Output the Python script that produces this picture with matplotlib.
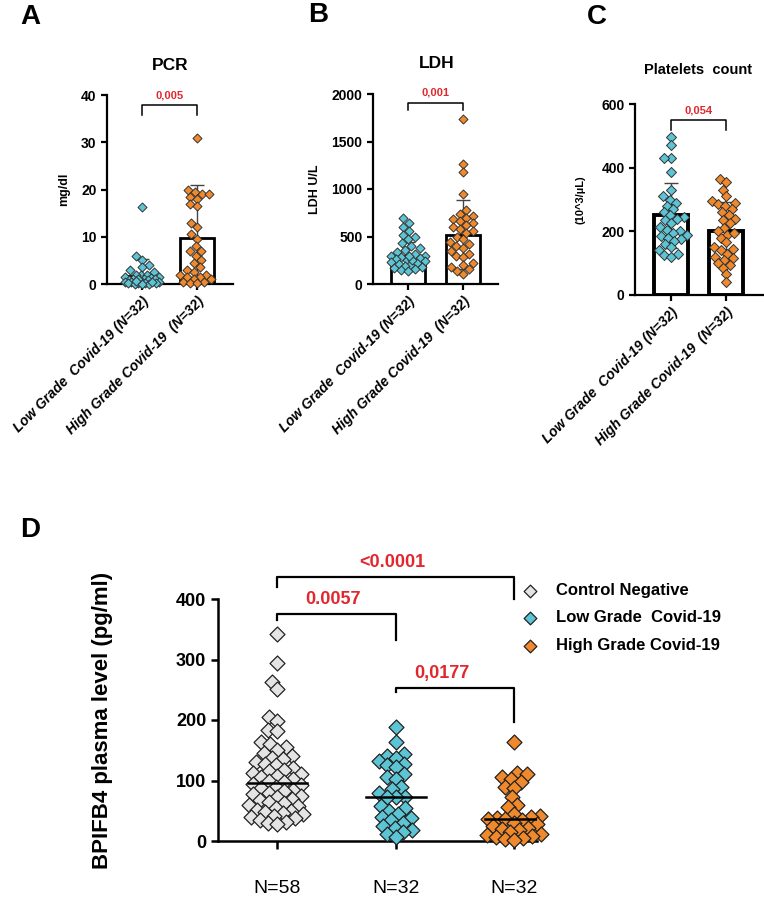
import numpy as np
import matplotlib
matplotlib.use("Agg")
from matplotlib import pyplot as plt

plt.rcParams['font.family'] = ['Liberation Sans', 'DejaVu Sans']

# ---- data ----
groups_ab = ["Low Grade  Covid-19 (N=32)", "High Grade Covid-19  (N=32)"]

pcr_low = [16.2, 6, 5, 4, 3.5, 3, 2.5, 2, 2, 1.8, 1.5, 1.5, 1.2, 1, 1, 1,
           0.8, 0.8, 0.6, 0.5, 0.5, 0.4, 0.3, 0.3, 0.2, 0.2, 0.1, 0.1, 0.1, 0.5, 1.0, 0.7]
pcr_high = [31, 20, 19.5, 19, 19, 18.5, 18, 17, 16.5, 13, 12, 10.5, 9.5, 8, 7, 7,
            6, 5, 4.5, 3.5, 3, 2.5, 2, 2, 1.5, 1.5, 1, 1, 0.5, 0.5, 0.3, 0.2]
pcr_mean = [1.7, 9.7]
pcr_sd = [3.5, 11.3]

ldh_low = [690, 640, 600, 560, 520, 500, 470, 430, 400, 380, 360, 340, 320, 300, 290, 280,
           270, 260, 250, 240, 230, 220, 210, 200, 190, 180, 170, 160, 150, 140, 250, 300]
ldh_high = [1740, 1260, 1180, 950, 780, 740, 720, 700, 680, 660, 640, 620, 600, 580, 560, 540,
            500, 470, 440, 420, 400, 380, 350, 320, 300, 280, 220, 200, 180, 160, 140, 110]
ldh_mean = [300, 520]
ldh_sd = [140, 360]

plt_low = [495, 470, 430, 430, 385, 330, 310, 300, 290, 280, 270, 260, 250, 245, 240, 235,
           225, 215, 205, 200, 195, 190, 185, 180, 175, 170, 160, 150, 140, 130, 125, 120]
plt_high = [365, 355, 330, 310, 295, 290, 285, 280, 270, 260, 250, 240, 235, 225, 210, 200,
            190, 180, 165, 150, 145, 140, 130, 120, 115, 110, 100, 95, 85, 65, 40, 195]
plt_mean = [250, 202]
plt_sd = [102, 90]

d_labels = ["Control Negative", "Low Grade  Covid-19", "High Grade Covid-19"]
d_ticks = ["N=58", "N=32", "N=32"]
d_control = [342, 295, 263, 251, 205, 199, 184, 182, 163, 160, 155, 150, 145, 140, 138, 135,
             130, 128, 125, 120, 118, 115, 112, 110, 108, 105, 102, 100, 98, 95, 92, 90,
             88, 85, 82, 80, 78, 75, 72, 70, 68, 65, 62, 60, 58, 55, 52, 50, 48, 46, 45,
             42, 40, 38, 35, 32, 30, 28]
d_low = [189, 164, 144, 140, 138, 132, 128, 125, 122, 110, 106, 102, 90, 86, 80, 73,
         72, 72, 58, 55, 50, 45, 40, 38, 35, 30, 25, 22, 18, 15, 12, 6]
d_high = [163, 113, 110, 105, 102, 98, 90, 88, 73, 60, 56, 45, 42, 40, 38, 37,
          36, 35, 30, 28, 25, 22, 20, 18, 15, 12, 10, 8, 6, 5, 3, 2]

CYAN = "#5cc4d4"
ORANGE = "#f0892c"
GREY = "#e4e4e4"
RED = "#e0282e"

W, H = 764, 900
fig = plt.figure(figsize=(W / 100, H / 100), dpi=100)


def px_axes(left, right, top, bottom):
    return fig.add_axes([left / W, 1 - bottom / H, (right - left) / W, (bottom - top) / H])


def swarm_x(ax, x0, values, dist_px, max_px):
    # simple beeswarm: place points one by one, as near the centre as possible
    trans = ax.transData
    pts = trans.transform(np.column_stack([np.full(len(values), x0), values]))
    xc = pts[0, 0]
    ys = pts[:, 1]
    order = np.argsort(ys)
    cand = np.arange(-max_px, max_px + 0.01, 0.5)
    cand = cand[np.argsort(np.abs(cand), kind="stable")]
    placed = []
    dx = np.zeros(len(values))
    for i in order:
        best, best_d = 0.0, -1
        for c in cand:
            if not placed:
                best = c
                break
            p = np.array(placed)
            d = np.min(np.hypot(p[:, 0] - c, p[:, 1] - ys[i]))
            if d >= dist_px:
                best = c
                break
            if d > best_d:
                best_d, best = d, c
        dx[i] = best
        placed.append((best, ys[i]))
    inv = trans.inverted()
    return inv.transform(np.column_stack([xc + dx, ys]))[:, 0]


def style_axes(ax, lw=1.6, ysize=10):
    for s in ("top", "right"):
        ax.spines[s].set_visible(False)
    for s in ("left", "bottom"):
        ax.spines[s].set_linewidth(lw)
    ax.tick_params(width=lw, length=4)
    ax.tick_params(axis="y", labelsize=ysize)
    for lab in ax.get_yticklabels():
        lab.set_fontweight("bold")


def bar_panel(ax, low, high, means, sds, ylim, yticks, ylabel, pval, br, xlim,
              bar_lw=2.0, s=21):
    ax.set_xlim(*xlim)
    ax.set_ylim(*ylim)
    ax.set_yticks(yticks)
    style_axes(ax)
    ax.bar([0, 1], means, width=0.62, facecolor="white", edgecolor="black",
           linewidth=bar_lw, zorder=1)
    ax.errorbar([0, 1], means, yerr=sds, fmt="none", ecolor="#444444",
                elinewidth=1.0, capsize=5, capthick=1.0, zorder=2)
    for k, (vals, col) in enumerate([(low, CYAN), (high, ORANGE)]):
        xs = swarm_x(ax, k, vals, 7.0, 17)
        ax.scatter(xs, vals, marker="D", s=s, facecolor=col, edgecolor="#333333",
                   linewidth=0.7, zorder=3, clip_on=False)
    ax.set_xticks([0, 1])
    ax.set_xticklabels(groups_ab, rotation=45, ha="right", rotation_mode="anchor",
                       fontsize=10, fontweight="bold", fontstyle="italic")
    ax.set_ylabel(ylabel, fontsize=9, fontweight="bold")
    # significance bracket
    y_top, y_leg, y_txt = br
    ax.plot([0, 0, 1, 1], [y_leg, y_top, y_top, y_leg], color="black", lw=1.1,
            clip_on=False)
    ax.text(0.5, y_txt, pval, color=RED, fontsize=8, fontweight="bold",
            ha="center", va="bottom")


# ---- A: PCR ----
axA = px_axes(107, 233, 95, 284)
bar_panel(axA, pcr_low, pcr_high, pcr_mean, pcr_sd, (0, 40), [0, 10, 20, 30, 40],
          "mg/dl", "0,005", (37.9, 35.8, 38.9), (-0.636, 1.655))
axA.yaxis.set_label_coords(-0.29, 0.5)

# ---- B: LDH ----
axB = px_axes(373, 498, 94, 284)
bar_panel(axB, ldh_low, ldh_high, ldh_mean, ldh_sd, (0, 2000), [0, 500, 1000, 1500, 2000],
          "LDH U/L", "0,001", (1905, 1830, 1960), (-0.636, 1.636))
axB.yaxis.set_label_coords(-0.42, 0.5)

# ---- C: Platelets ----
axC = px_axes(635, 764, 104, 295)
bar_panel(axC, plt_low, plt_high, plt_mean, plt_sd, (0, 600), [0, 200, 400, 600],
          "(10^3/µL)", "0,054", (550, 518, 565), (-0.655, 1.69), bar_lw=2.8, s=26)
axC.yaxis.set_label_coords(-0.38, 0.5)
axC.yaxis.label.set_fontsize(8)

for txt, x, y, fs in [("PCR", 170, 65, 12.5), ("LDH", 437, 63, 12.5),
                      ("Platelets  count", 698, 70, 10.5)]:
    fig.text(x / W, 1 - y / H, txt, ha="center", va="center", fontsize=fs,
             fontweight="bold")
for txt, x, y in [("A", 30, 17), ("B", 318, 15), ("C", 597, 17), ("D", 30, 530)]:
    fig.text(x / W, 1 - y / H, txt, ha="center", va="center", fontsize=20,
             fontweight="bold")

# ---- D: BPIFB4 ----
axD = px_axes(218, 537, 599, 841)
axD.set_xlim(-0.5, 2.19)
axD.set_ylim(0, 400)
axD.set_yticks([0, 100, 200, 300, 400])
style_axes(axD, lw=1.8, ysize=13)
for k, (vals, col, lab) in enumerate(zip([d_control, d_low, d_high],
                                         [GREY, CYAN, ORANGE], d_labels)):
    xs = swarm_x(axD, k, vals, 9.0, 28)
    axD.scatter(xs, vals, marker="D", s=58, facecolor=col, edgecolor="#222222",
                linewidth=0.9, zorder=3, clip_on=False, label=lab)
    axD.plot([k - 0.25, k + 0.25], [np.median(vals)] * 2, color="black", lw=1.8,
             zorder=4)
axD.set_xticks([0, 1, 2])
axD.set_xticklabels(d_ticks, fontsize=14)
axD.tick_params(axis="x", length=6, pad=22)
axD.tick_params(axis="y", length=5)
axD.set_ylabel("BPIFB4 plasma level (pg/ml)", fontsize=16, fontweight="bold")
axD.yaxis.set_label_coords(-0.33, 0.5)

brackets = [
    # x0, x1, y top, left leg, right leg, text, text x, text y
    (0, 2, 436, 420, 400, "<0.0001", 0.97, 446),
    (0, 1, 375, 365, 332, "0.0057", 0.47, 385),
    (1, 2, 253, 246, 197, "0,0177", 1.39, 263),
]
for x0, x1, yt, yl, yr, txt, tx, ty in brackets:
    axD.plot([x0, x0, x1, x1], [yl, yt, yt, yr], color="black", lw=1.6, clip_on=False)
    axD.text(tx, ty, txt, color=RED, fontsize=13, fontweight="bold", ha="center",
             va="bottom")

leg = axD.legend(loc="upper left", bbox_to_anchor=(498 / W, 1 - 568 / H),
                 bbox_transform=fig.transFigure, frameon=False,
                 markerscale=0.85, handletextpad=0.6, labelspacing=0.75,
                 prop={"weight": "bold", "size": 12})

fig.savefig("out.png", dpi=100)
